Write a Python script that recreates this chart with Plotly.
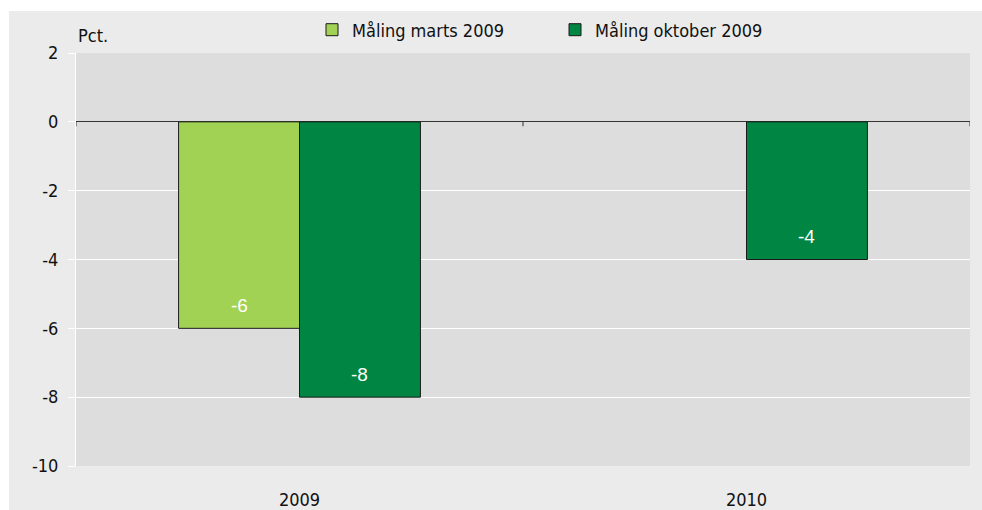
import plotly.graph_objects as go

categories = ["2009", "2010"]
series_names = ["Måling marts 2009", "Måling oktober 2009"]
marts_values = [-6, None]
oktober_values = [-8, -4]
y_ticks = [-10, -8, -6, -4, -2, 0, 2]
y_tick_labels = ["-10", "-8", "-6", "-4", "-2", "0", "2"]
colors = ["#a2d254", "#008542"]

FONT = "Liberation Sans Narrow, DejaVu Sans Condensed, Arial, sans-serif"
W, H = 982, 510
ML, MR, MT, MB = 76, 12, 53, 44
PW, PH = W - ML - MR, H - MT - MB
BARGAP = 0.459

def px2x(px):
    return (px - ML) / PW

def py2y(py):
    return (H - MB - py) / PH

fig = go.Figure()
for name, vals, col in zip(series_names, [marts_values, oktober_values], colors):
    fig.add_trace(go.Bar(
        x=categories, y=vals, name=name,
        marker=dict(color=col, line=dict(color="#1a1a1a", width=1)),
        hoverinfo="skip",
    ))

# value labels (white, inside near bar end)
bar_px = PW / len(categories) * (1 - BARGAP) / 2
annotations = []
for i, vals in enumerate([marts_values, oktober_values]):
    shift = (i - 0.5) * bar_px
    for ci, v in enumerate(vals):
        if v is None:
            continue
        annotations.append(dict(x=ci, y=v, xref="x", yref="y", text=str(v),
                                showarrow=False, xshift=shift, yshift=23, xanchor="center",
                                yanchor="middle",
                                font=dict(color="white", size=19,
                                          family="Arial, Liberation Sans, sans-serif")))
annotations.append(dict(text="Pct.", xref="paper", yref="paper", x=0, y=py2y(35),
                        xanchor="left", yanchor="middle", showarrow=False, font=dict(size=18)))

shapes = [
    dict(type="rect", xref="paper", yref="paper", x0=px2x(0), x1=px2x(W), y0=py2y(11), y1=py2y(0),
         fillcolor="white", line=dict(width=0), layer="below"),
    dict(type="rect", xref="paper", yref="paper", x0=px2x(0), x1=px2x(9), y0=py2y(H), y1=py2y(0),
         fillcolor="white", line=dict(width=0), layer="below"),
]
for b in [-0.5, 0.5, 1.5]:
    shapes.append(dict(type="line", xref="x", yref="y", x0=b, x1=b, y0=0, y1=-0.13,
                       line=dict(color="#333333", width=1)))

fig.update_layout(
    width=W, height=H,
    margin=dict(l=ML, r=MR, t=MT, b=MB, autoexpand=False),
    paper_bgcolor="#ebebeb", plot_bgcolor="#dddddd",
    barmode="group", bargap=BARGAP, bargroupgap=0,
    font=dict(family=FONT, size=18, color="#111111"),
    showlegend=True,
    legend=dict(orientation="h", x=px2x(312), xanchor="left", y=py2y(30), yanchor="middle",
                bgcolor="rgba(0,0,0,0)", font=dict(size=18), entrywidth=198, entrywidthmode="pixels",
                itemclick=False),
    xaxis=dict(type="category", showgrid=False, ticks="", ticklabelstandoff=21, automargin=False,
               showline=False, zeroline=False, range=[-0.5, 1.5]),
    yaxis=dict(range=[-10, 2], tickvals=y_ticks, ticktext=y_tick_labels, automargin=False,
               showgrid=True, gridcolor="white", gridwidth=1,
               zeroline=True, zerolinecolor="#333333", zerolinewidth=1,
               showline=True, linecolor="white", linewidth=1,
               ticks="outside", ticklen=7, tickcolor="white", ticklabelstandoff=6),
    shapes=shapes,
    annotations=annotations,
)

fig.write_html("out.html", config={"displayModeBar": False},
               post_script="document.body.style.margin='0';document.body.style.overflow='hidden';")
